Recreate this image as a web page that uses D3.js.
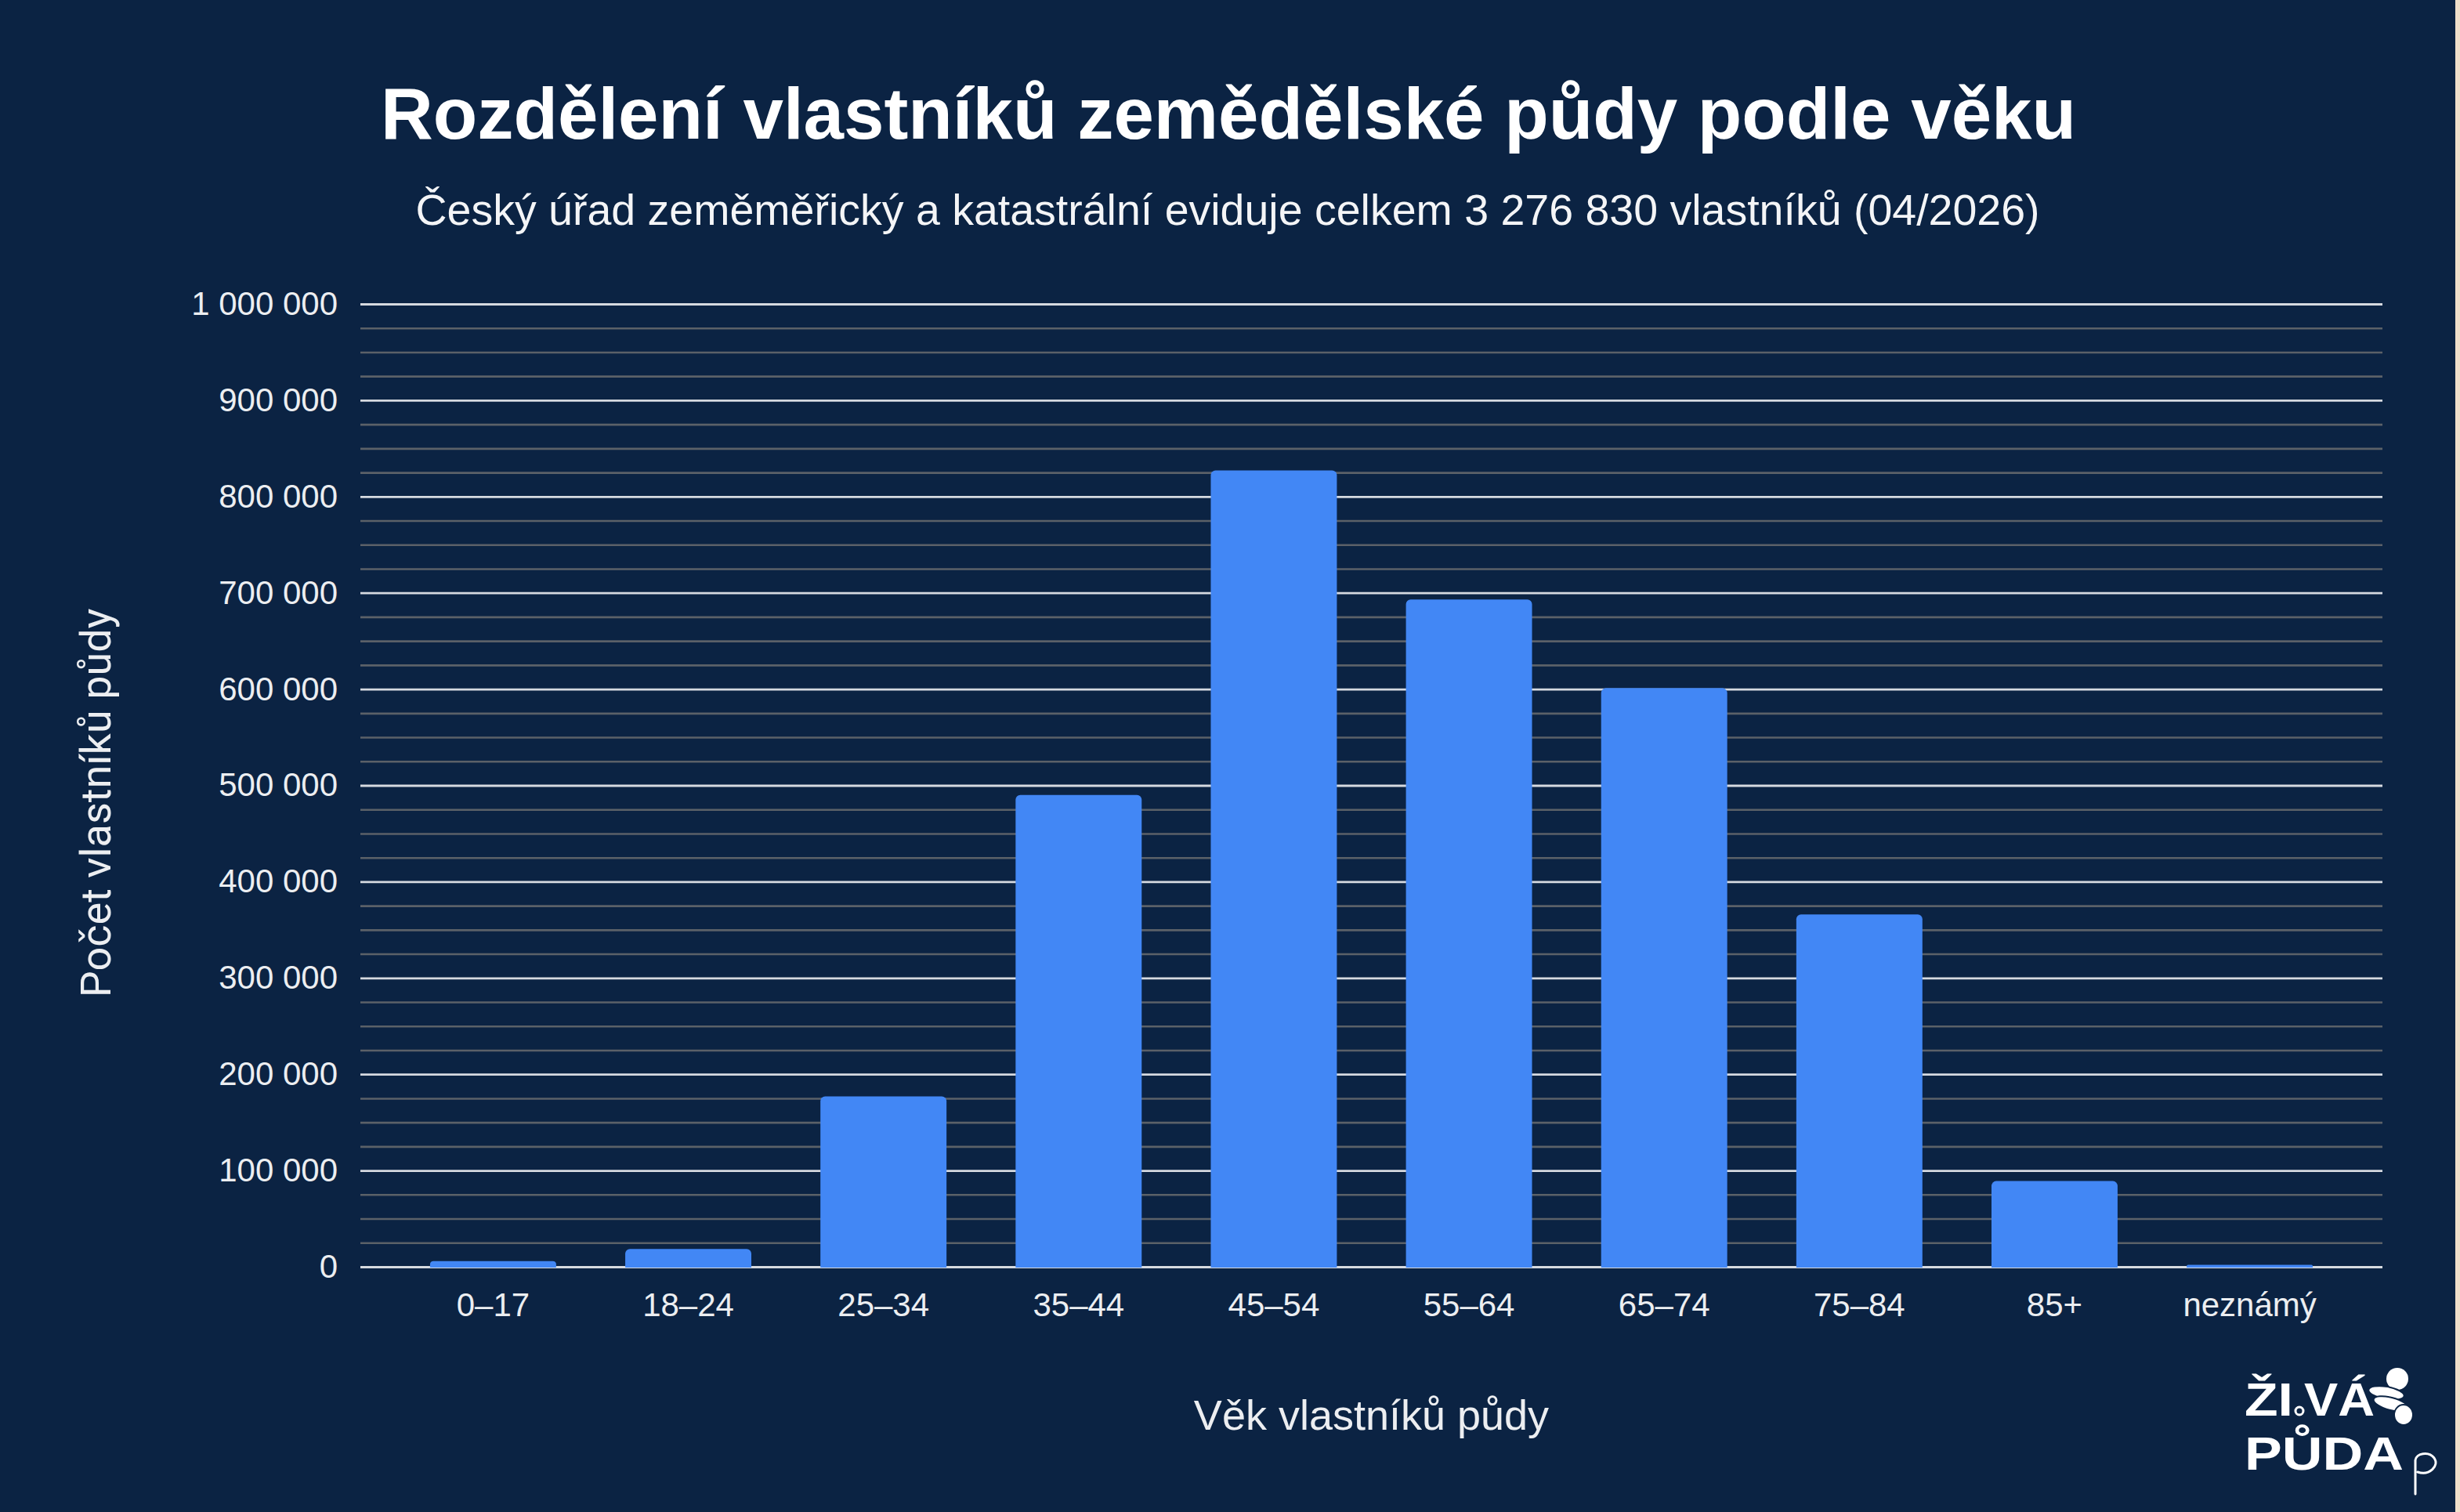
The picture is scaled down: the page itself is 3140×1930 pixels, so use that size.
<!DOCTYPE html>
<html>
<head>
<meta charset="utf-8">
<script src="https://cdn.jsdelivr.net/npm/d3@7"></script>
<style>
  html, body { margin: 0; padding: 0; background: #0b2343; }
  svg { display: block; }
</style>
</head>
<body>
<svg id="chart" width="3140" height="1930"></svg>
<script>
// ---- data ----
const categories = ["0–17", "18–24", "25–34", "35–44", "45–54", "55–64", "65–74", "75–84", "85+", "neznámý"];
const owners = [6000, 18500, 177000, 490000, 827000, 693000, 601000, 366000, 89000, 2000];
const yTickValues = [0, 100000, 200000, 300000, 400000, 500000, 600000, 700000, 800000, 900000, 1000000];
const yMinorStep = 25000;
const yMax = 1000000;
const titleText = "Rozdělení vlastníků zemědělské půdy podle věku";
const subtitleText = "Český úřad zeměměřický a katastrální eviduje celkem 3 276 830 vlastníků (04/2026)";
const xTitle = "Věk vlastníků půdy";
const yTitle = "Počet vlastníků půdy";

// ---- layout ----
const W = 3140, H = 1930;
const plot = { left: 460, right: 3041, top: 388, bottom: 1617 };
const BG = "#0b2343";

const svg = d3.select("#chart");
svg.append("rect").attr("width", W).attr("height", H).attr("fill", BG);
svg.append("rect").attr("x", 3134).attr("y", 0).attr("width", 6).attr("height", H).attr("fill", "#efe0cb");

const x = d3.scaleBand().domain(categories).range([plot.left, plot.right]).paddingInner(0.354).paddingOuter(0.357);
const y = d3.scaleLinear().domain([0, yMax]).range([plot.bottom, plot.top]);

const loc = d3.formatLocale({ decimal: ",", thousands: " ", grouping: [3], currency: ["", ""] });
const fmt = loc.format(",d");

// minor gridlines
const minorVals = d3.range(0, yMax + 1, yMinorStep).filter(v => !yTickValues.includes(v));
svg.append("g")
  .attr("transform", `translate(${plot.left},0)`)
  .call(d3.axisLeft(y).tickValues(minorVals).tickSize(-(plot.right - plot.left)).tickFormat(""))
  .call(g => g.select(".domain").remove())
  .call(g => g.selectAll("line").attr("stroke", "#5b6168").attr("stroke-width", 2.6));

// major gridlines
svg.append("g")
  .attr("transform", `translate(${plot.left},0)`)
  .call(d3.axisLeft(y).tickValues(yTickValues).tickSize(-(plot.right - plot.left)).tickFormat(""))
  .call(g => g.select(".domain").remove())
  .call(g => g.selectAll("line").attr("stroke", "#d6dae0").attr("stroke-width", 2.8));

// y labels
svg.append("g")
  .attr("transform", `translate(${plot.left},0)`)
  .call(d3.axisLeft(y).tickValues(yTickValues).tickSize(0).tickPadding(29).tickFormat(fmt))
  .call(g => g.select(".domain").remove())
  .call(g => g.selectAll("text")
    .attr("fill", "#eceef1")
    .attr("font-family", "'Liberation Sans', Arial, sans-serif")
    .attr("font-size", 42));

// bars with rounded tops
function barPath(x0, y0, w, h, r) {
  r = Math.max(0, Math.min(r, h / 2, w / 2));
  const p = d3.path();
  p.moveTo(x0, y0 + h);
  p.lineTo(x0, y0 + r);
  p.arcTo(x0, y0, x0 + r, y0, r);
  p.lineTo(x0 + w - r, y0);
  p.arcTo(x0 + w, y0, x0 + w, y0 + r, r);
  p.lineTo(x0 + w, y0 + h);
  p.closePath();
  return p.toString();
}
svg.append("g").selectAll("path")
  .data(categories.map((c, i) => ({ c, v: owners[i] })))
  .join("path")
  .attr("fill", "#4287f5")
  .attr("d", d => barPath(x(d.c), y(d.v), x.bandwidth(), y(0) - y(d.v) + 1, 6));

// x labels
svg.append("g")
  .attr("transform", `translate(0,${plot.bottom})`)
  .call(d3.axisBottom(x).tickSize(0).tickPadding(33))
  .call(g => g.select(".domain").remove())
  .call(g => g.selectAll("text")
    .attr("fill", "#eceef1")
    .attr("font-family", "'Liberation Sans', Arial, sans-serif")
    .attr("font-size", 42));

// titles
svg.append("text")
  .attr("x", 1568).attr("y", 177)
  .attr("text-anchor", "middle")
  .attr("fill", "#ffffff")
  .attr("font-family", "'Liberation Sans', Arial, sans-serif")
  .attr("font-weight", "bold")
  .attr("font-size", 92.5)
  .text(titleText);

svg.append("text")
  .attr("x", 1567).attr("y", 287)
  .attr("text-anchor", "middle")
  .attr("fill", "#f4f5f7")
  .attr("font-family", "'Liberation Sans', Arial, sans-serif")
  .attr("font-size", 55.5)
  .text(subtitleText);

svg.append("text")
  .attr("x", (plot.left + plot.right) / 2).attr("y", 1825)
  .attr("text-anchor", "middle")
  .attr("fill", "#eceef1")
  .attr("font-family", "'Liberation Sans', Arial, sans-serif")
  .attr("font-size", 54)
  .text(xTitle);

svg.append("text")
  .attr("transform", `translate(141,1025) rotate(-90)`)
  .attr("text-anchor", "middle")
  .attr("fill", "#eceef1")
  .attr("font-family", "Roboto, 'Liberation Sans', sans-serif")
  .attr("font-size", 54)
  .text(yTitle);

// logo
const logo = svg.append("g").attr("fill", "#ffffff");
const lf = "'Liberation Sans', Arial, sans-serif";
logo.append("text").attr("x", 2865).attr("y", 1807).attr("font-family", lf).attr("font-weight", "bold")
  .attr("font-size", 60).attr("textLength", 62).attr("lengthAdjust", "spacingAndGlyphs").text("ŽI");
logo.append("text").attr("x", 2941).attr("y", 1807).attr("font-family", lf).attr("font-weight", "bold")
  .attr("font-size", 60).attr("textLength", 90).attr("lengthAdjust", "spacingAndGlyphs").text("VÁ");
logo.append("text").attr("x", 2865).attr("y", 1876).attr("font-family", lf).attr("font-weight", "bold")
  .attr("font-size", 60).attr("textLength", 203).attr("lengthAdjust", "spacingAndGlyphs").text("PŮDA");
logo.append("circle").attr("cx", 2935).attr("cy", 1801).attr("r", 5).attr("fill", "none").attr("stroke", "#fff").attr("stroke-width", 3);
// critter icon
logo.append("circle").attr("cx", 3060).attr("cy", 1760).attr("r", 14);
logo.append("ellipse").attr("cx", 3046).attr("cy", 1778).attr("rx", 23).attr("ry", 8).attr("transform", "rotate(10,3046,1778)").attr("stroke", BG).attr("stroke-width", 2);
logo.append("ellipse").attr("cx", 3052).attr("cy", 1792).attr("rx", 23).attr("ry", 8).attr("transform", "rotate(15,3052,1792)").attr("stroke", BG).attr("stroke-width", 2);
logo.append("ellipse").attr("cx", 3068).attr("cy", 1806).attr("rx", 12).attr("ry", 13).attr("stroke", BG).attr("stroke-width", 2);
// script p
logo.append("path")
  .attr("d", "M3083,1907 L3083,1864 C3084,1855 3100,1852 3107,1861 C3114,1871 3101,1884 3086,1879")
  .attr("fill", "none").attr("stroke", "#fff").attr("stroke-width", 3).attr("stroke-linecap", "round");
</script>
</body>
</html>
